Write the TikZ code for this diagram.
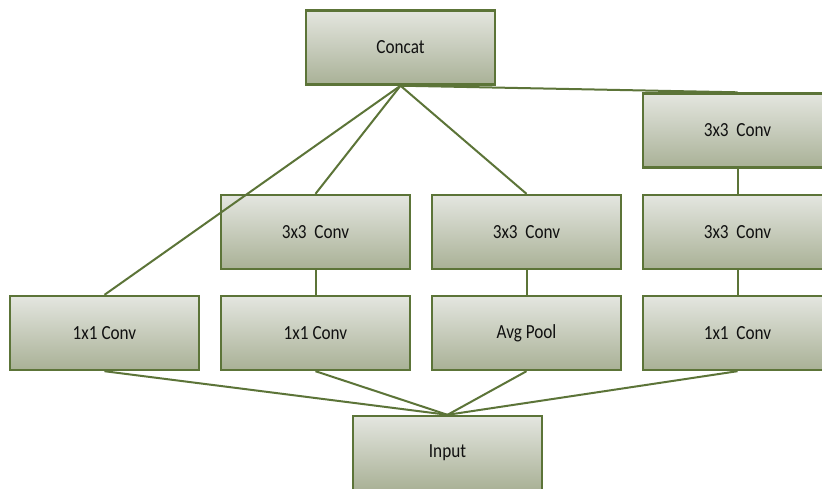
\documentclass[tikz,border=0pt]{standalone}
\usepackage{fontspec}
\setmainfont[FakeStretch=0.86]{Carlito}
\definecolor{boxline}{HTML}{5C7438}
\definecolor{boxtop}{HTML}{E4E6E0}
\definecolor{boxbot}{HTML}{A9B196}
\definecolor{txt}{HTML}{111111}
\begin{document}
\begin{tikzpicture}[x=1pt,y=-1pt,
  blk/.style={draw=boxline, line width=2.4pt, top color=boxtop, bottom color=boxbot,
    minimum width=189pt, minimum height=74pt, inner sep=0pt, anchor=center,
    text=txt, font=\fontsize{20}{24}\selectfont},
  lnk/.style={draw=boxline, line width=2pt}]
\clip (0,0) rectangle (822,488);
\fill[white] (0,0) rectangle (822,488);
% nodes
\node[blk] (concat) at (400.5,47.5) {Concat};
\node[blk] (r3a) at (737.5,130.5) {3x3\ \ Conv};
\node[blk] (b3) at (315.5,232) {3x3\ \ Conv};
\node[blk] (c3) at (526.5,232) {3x3\ \ Conv};
\node[blk] (r3b) at (737.5,232) {3x3\ \ Conv};
\node[blk] (a1) at (104.5,333) {1x1 Conv};
\node[blk] (b1) at (315.5,333) {1x1 Conv};
\node[blk] (cp) at (526.5,333) {Avg Pool};
\node[blk] (r1) at (737.5,333) {1x1\ \ Conv};
\node[blk] (inp) at (447.5,453) {Input};
% connectors
\draw[lnk] (concat.south) -- (a1.north);
\draw[lnk] (concat.south) -- (b3.north);
\draw[lnk] (concat.south) -- (c3.north);
\draw[lnk] (concat.south) -- (r3a.north);
\draw[lnk] (b3.south) -- (b1.north);
\draw[lnk] (c3.south) -- (cp.north);
\draw[lnk] (r3a.south) -- (r3b.north);
\draw[lnk] (r3b.south) -- (r1.north);
\draw[lnk] (a1.south) -- (inp.north);
\draw[lnk] (b1.south) -- (inp.north);
\draw[lnk] (cp.south) -- (inp.north);
\draw[lnk] (r1.south) -- (inp.north);
\end{tikzpicture}
\end{document}
